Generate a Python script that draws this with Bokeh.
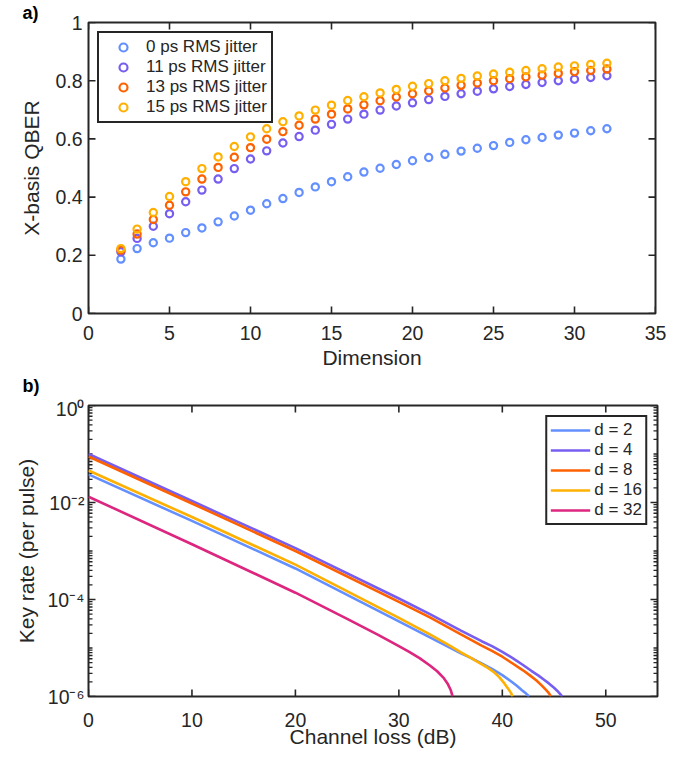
from bokeh.plotting import figure
from bokeh.models import Range1d, FixedTicker, Legend, LegendItem, Title
from bokeh.layouts import column
from bokeh.embed import file_html
from bokeh.resources import INLINE

# ---------------- data: panel a ----------------
dims = list(range(2, 33))
qber_0ps = [0.187, 0.223, 0.243, 0.259, 0.278, 0.294, 0.315, 0.335, 0.355, 0.377, 0.395,
            0.416, 0.435, 0.453, 0.470, 0.486, 0.499, 0.512, 0.525, 0.536, 0.547, 0.558,
            0.568, 0.577, 0.588, 0.597, 0.605, 0.613, 0.620, 0.628, 0.635]
qber_11ps = [0.212, 0.258, 0.300, 0.343, 0.384, 0.424, 0.462, 0.498, 0.531, 0.559, 0.586,
             0.608, 0.630, 0.650, 0.668, 0.685, 0.699, 0.713, 0.724, 0.735, 0.746, 0.755,
             0.764, 0.772, 0.780, 0.787, 0.794, 0.800, 0.805, 0.811, 0.817]
qber_13ps = [0.218, 0.273, 0.323, 0.372, 0.418, 0.462, 0.502, 0.537, 0.570, 0.599, 0.625,
             0.647, 0.668, 0.685, 0.703, 0.717, 0.731, 0.744, 0.755, 0.765, 0.775, 0.784,
             0.792, 0.800, 0.807, 0.813, 0.819, 0.825, 0.831, 0.835, 0.840]
qber_15ps = [0.223, 0.290, 0.347, 0.402, 0.453, 0.498, 0.538, 0.574, 0.607, 0.635, 0.659,
             0.679, 0.699, 0.716, 0.732, 0.745, 0.758, 0.770, 0.781, 0.790, 0.800, 0.808,
             0.816, 0.823, 0.829, 0.835, 0.841, 0.847, 0.851, 0.856, 0.860]
jitter_labels = ["0 ps RMS jitter", "11 ps RMS jitter", "13 ps RMS jitter", "15 ps RMS jitter"]

# ---------------- data: panel b (read as log10 of key rate) ----------------
loss_d2 = [0, 10, 20, 30, 33, 36, 37, 38, 39, 40, 40.8, 41.4, 41.9, 42.3, 42.6]
log_d2 = [-1.42, -2.38, -3.36, -4.45, -4.78, -5.11, -5.21, -5.32, -5.43, -5.56, -5.68,
          -5.78, -5.87, -5.94, -6.0]
loss_d4 = [0, 10, 20, 30, 33, 36, 38, 39, 40, 41, 42, 42.8, 43.5, 44, 44.5, 45, 45.3, 45.6, 45.8]
log_d4 = [-1.0, -1.97, -2.94, -3.98, -4.30, -4.64, -4.86, -4.96, -5.08, -5.21, -5.35, -5.47,
          -5.57, -5.65, -5.73, -5.82, -5.88, -5.95, -6.0]
loss_d8 = [0, 10, 20, 30, 33, 36, 38, 39, 40, 41, 42, 42.7, 43.3, 43.8, 44.2, 44.5, 44.7]
log_d8 = [-1.05, -2.02, -3.0, -4.05, -4.37, -4.72, -4.95, -5.06, -5.18, -5.32, -5.46, -5.57,
          -5.67, -5.77, -5.86, -5.93, -6.0]
loss_d16 = [0, 10, 20, 30, 33, 35, 36, 37, 37.9, 38.6, 39.2, 39.7, 40.2, 40.6, 40.85, 41.0]
log_d16 = [-1.34, -2.30, -3.28, -4.38, -4.72, -4.96, -5.09, -5.21, -5.32, -5.41, -5.50,
           -5.60, -5.73, -5.85, -5.93, -6.0]
loss_d32 = [0, 10, 20, 25, 28, 30, 31, 32, 33, 33.7, 34.3, 34.7, 35.0, 35.2]
log_d32 = [-1.88, -2.86, -3.86, -4.40, -4.73, -4.96, -5.08, -5.21, -5.36, -5.48, -5.61,
           -5.73, -5.86, -6.0]
dim_labels = ["d = 2", "d = 4", "d = 8", "d = 16", "d = 32"]

# tick positions
xt1 = [0, 5, 10, 15, 20, 25, 30, 35]
yt1 = [0, 0.2, 0.4, 0.6, 0.8, 1]
xt2 = [0, 10, 20, 30, 40, 50]
yt2 = [1e-6, 1e-4, 1e-2, 1]

colors = ["#648FFF", "#785EF0", "#FE6100", "#FFB000", "#DC267F"]
AX = "#262626"
FONT = "Liberation Sans"
FW1, FW2, FH = 567, 569, 291


def style_common(p):
    p.outline_line_color = AX
    p.outline_line_width = 2
    p.outline_line_alpha = 1
    p.xgrid.visible = False
    p.ygrid.visible = False
    p.background_fill_color = "white"
    p.border_fill_color = "white"
    for ax in p.xaxis + p.yaxis:
        ax.axis_line_color = None
        ax.major_tick_line_color = None
        ax.minor_tick_line_color = None
        ax.major_tick_in = 0
        ax.major_tick_out = 0
        ax.minor_tick_in = 0
        ax.minor_tick_out = 0
        ax.major_label_text_font = FONT
        ax.major_label_text_color = AX
        ax.major_label_text_font_size = "19.5px"
        ax.axis_label_text_font = FONT
        ax.axis_label_text_color = AX
        ax.axis_label_text_font_size = "21px"
        ax.axis_label_text_font_style = "normal"


def tick_segments(p, xs, ys, xr, yr, fw, tick_px, width, ylog=False):
    # inward tick marks on all four sides, lengths converted from pixels to data units
    x0, x1 = xr
    y0, y1 = yr
    dx = tick_px * (x1 - x0) / fw
    if xs:
        if ylog:
            fy = (y1 / y0) ** (tick_px / FH)
            yb, yt = y0 * fy, y1 / fy
        else:
            dy = tick_px * (y1 - y0) / FH
            yb, yt = y0 + dy, y1 - dy
        p.segment(x0=xs, y0=[y0] * len(xs), x1=xs, y1=[yb] * len(xs),
                  line_color=AX, line_width=width)
        p.segment(x0=xs, y0=[y1] * len(xs), x1=xs, y1=[yt] * len(xs),
                  line_color=AX, line_width=width)
    if ys:
        p.segment(x0=[x0] * len(ys), y0=ys, x1=[x0 + dx] * len(ys), y1=ys,
                  line_color=AX, line_width=width)
        p.segment(x0=[x1] * len(ys), y0=ys, x1=[x1 - dx] * len(ys), y1=ys,
                  line_color=AX, line_width=width)


# ---------------- panel a ----------------
p1 = figure(frame_width=FW1, frame_height=FH, output_backend="svg", toolbar_location=None,
            x_range=Range1d(0, 35), y_range=Range1d(0, 1),
            min_border_left=88, min_border_right=30, min_border_top=21, min_border_bottom=84)
style_common(p1)
p1.xaxis.ticker = FixedTicker(ticks=xt1)
p1.yaxis.ticker = FixedTicker(ticks=yt1)
p1.yaxis.major_label_overrides = {0: "0", 0.2: "0.2", 0.4: "0.4", 0.6: "0.6", 0.8: "0.8", 1: "1"}
p1.xaxis.axis_label = "Dimension"
p1.yaxis.axis_label = "X-basis QBER"
p1.xaxis.major_label_standoff = 12
p1.xaxis.axis_label_standoff = 3
p1.yaxis.major_label_standoff = 6
p1.yaxis.axis_label_standoff = 9
tick_segments(p1, xt1, yt1, (0, 35), (0, 1), FW1, 7, 1.6)

items1 = []
for ys, c, lab in zip([qber_0ps, qber_11ps, qber_13ps, qber_15ps], colors[:4], jitter_labels):
    r = p1.scatter(dims, ys, marker="circle", size=7.2, line_width=2.2, line_color=c,
                   fill_color=None)
    items1.append(LegendItem(label=lab, renderers=[r]))
leg1 = Legend(items=items1, location="top_left", margin=9, padding=4, spacing=0,
              glyph_width=40, glyph_height=20, label_height=20, label_standoff=3,
              label_text_font=FONT, label_text_font_size="17px", label_text_color=AX,
              border_line_color=AX, border_line_width=2, border_line_alpha=1,
              background_fill_color="white", background_fill_alpha=1)
p1.add_layout(leg1, "center")
p1.add_layout(Title(text="a)", align="left", offset=-66, standoff=0, text_font=FONT,
                    text_font_size="18px", text_font_style="bold", text_color="black"),
              "above")
p1.add_layout(Title(text="b)", align="left", offset=-66, standoff=4, text_font=FONT,
                    text_font_size="18px", text_font_style="bold", text_color="black"),
              "below")

# ---------------- panel b ----------------
p2 = figure(frame_width=FW2, frame_height=FH, output_backend="svg", toolbar_location=None,
            x_range=Range1d(0, 55), y_range=Range1d(1e-6, 1), y_axis_type="log",
            min_border_left=88, min_border_right=30, min_border_top=8, min_border_bottom=52)
style_common(p2)
p2.xaxis.ticker = FixedTicker(ticks=xt2)
p2.yaxis.ticker = FixedTicker(ticks=yt2)
p2.yaxis.major_label_overrides = {1: "10\u2070", 1e-2: "10\u207b\u00b2",
                                  1e-4: "10\u207b\u2074", 1e-6: "10\u207b\u2076"}
p2.xaxis.axis_label = "Channel loss (dB)"
p2.yaxis.axis_label = "Key rate (per pulse)"
p2.xaxis.major_label_standoff = 16
p2.xaxis.axis_label_standoff = -5
p2.yaxis.major_label_standoff = 4
p2.yaxis.axis_label_standoff = 6
minor2 = [m * 10.0 ** e for e in range(-6, 0) for m in range(1, 10)
          if not (m == 1 and e % 2 == 0)]
tick_segments(p2, xt2, yt2, (0, 55), (1e-6, 1), FW2, 7, 1.6, ylog=True)
tick_segments(p2, [], minor2, (0, 55), (1e-6, 1), FW2, 4, 1.3, ylog=True)

items2 = []
for xs, ls, c, lab in zip([loss_d2, loss_d4, loss_d8, loss_d16, loss_d32],
                          [log_d2, log_d4, log_d8, log_d16, log_d32], colors, dim_labels):
    r = p2.line(xs, [10.0 ** v for v in ls], line_color=c, line_width=2.6)
    items2.append(LegendItem(label=lab, renderers=[r]))
leg2 = Legend(items=items2, location="top_right", margin=10, padding=3, spacing=0,
              glyph_width=40, glyph_height=20, label_height=20, label_standoff=4,
              label_text_font=FONT, label_text_font_size="17px", label_text_color=AX,
              border_line_color=AX, border_line_width=2, border_line_alpha=1,
              background_fill_color="white", background_fill_alpha=1)
p2.add_layout(leg2, "center")

layout = column(p1, p2)
open("out.html", "w").write(file_html(layout, INLINE))
